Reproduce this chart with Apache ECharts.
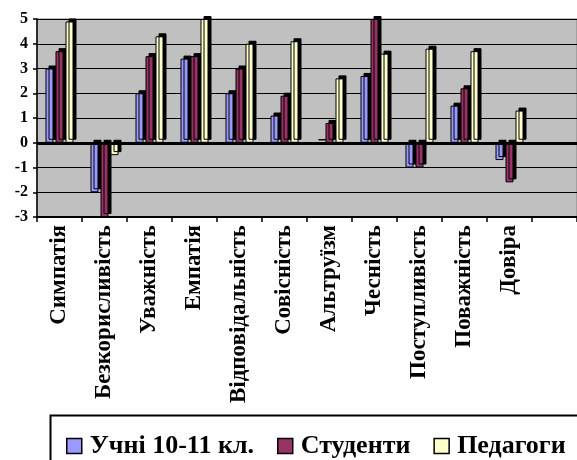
<!DOCTYPE html>
<html>
<head>
<meta charset="utf-8">
<script src="https://cdn.jsdelivr.net/npm/echarts@6/dist/echarts.min.js"></script>
<style>
html,body{margin:0;padding:0;background:#fff;}
#chart{width:577px;height:460px;}
</style>
</head>
<body>
<div id="chart"></div>
<script>
const categories = ['Симпатія','Безкорисливість','Уважність','Емпатія','Відповідальність','Совісність','Альтруїзм','Чесність','Поступливість','Поважність','Довіра',''];
const seriesNames = ['Учні 10-11 кл.','Студенти','Педагоги'];
const pupils   = [3.0,-2.0,2.0,3.4,2.0,1.1,0,2.7,-1.0,1.5,-0.7,null];
const students = [3.7,-3.0,3.5,3.5,3.0,1.9,0.8,5.0,-1.0,2.2,-1.6,null];
const teachers = [4.9,-0.5,4.3,5.0,4.0,4.1,2.6,3.6,3.8,3.7,1.3,null];
const yTicks = {min:-3, max:5, interval:1};

const FONT = '"Liberation Serif", "Times New Roman", serif';
const colors = ['#9999ff','#993366','#ffffcc'];

function barSeries(name, data, color, idx) {
  const s = {
    name: name,
    type: 'bar',
    data: data,
    barWidth: 8,
    barGap: '25%',
    itemStyle: {
      color: color,
      borderColor: '#000',
      borderWidth: 1,
      shadowColor: '#000',
      shadowOffsetX: 3,
      shadowOffsetY: -3,
      shadowBlur: 0
    },
    emphasis: {disabled: true},
    silent: true,
    animation: false
  };
  if (idx === 2) {
    s.markLine = {
      silent: true,
      symbol: 'none',
      label: {show: false},
      lineStyle: {color: '#000', width: 3, type: 'solid'},
      data: [{yAxis: 0}],
      animation: false
    };
  }
  return s;
}

const chart = echarts.init(document.getElementById('chart'), null, {renderer: 'canvas'});
chart.setOption({
  backgroundColor: '#fff',
  animation: false,
  textStyle: {fontFamily: FONT},
  grid: {
    left: 37, right: -6, top: 19, bottom: 243,
    show: true, backgroundColor: '#c0c0c0', borderColor: '#808080', borderWidth: 1,
    containLabel: false
  },
  legend: {
    left: 61, top: 428,
    itemWidth: 15, itemHeight: 15, itemGap: 23,
    icon: 'rect',
    itemStyle: {borderColor: '#000', borderWidth: 1.5, shadowBlur: 0, shadowOffsetX: 0, shadowOffsetY: 0, shadowColor: 'transparent'},
    textStyle: {fontFamily: FONT, fontWeight: 'bold', fontSize: 26, color: '#000', padding: [0,0,0,3]},
    data: seriesNames,
    selectedMode: false
  },
  graphic: [{
    type: 'rect', left: 48, top: 413, silent: true,
    shape: {width: 600, height: 100},
    style: {fill: 'none', stroke: '#000', lineWidth: 2}
  }],
  xAxis: {
    type: 'category',
    data: categories,
    position: 'bottom',
    axisLine: {onZero: false, lineStyle: {color: '#000', width: 2}},
    axisTick: {show: true, interval: 0, length: 5, lineStyle: {color: '#000', width: 1.5}},
    axisLabel: {interval: 0, rotate: 90, margin: 8, fontFamily: FONT, fontWeight: 'bold', fontSize: 23, color: '#000'},
    splitLine: {show: false}
  },
  yAxis: {
    type: 'value',
    min: yTicks.min, max: yTicks.max, interval: yTicks.interval,
    axisLine: {show: true, lineStyle: {color: '#000', width: 1.5}},
    axisTick: {show: true, length: 4, lineStyle: {color: '#000', width: 1.5}},
    axisLabel: {margin: 9, fontFamily: FONT, fontWeight: 'bold', fontSize: 16, color: '#000'},
    splitLine: {show: true, lineStyle: {color: '#000', width: 1}}
  },
  series: [
    barSeries(seriesNames[0], pupils, colors[0], 0),
    barSeries(seriesNames[1], students, colors[1], 1),
    barSeries(seriesNames[2], teachers, colors[2], 2)
  ]
});
</script>
</body>
</html>
